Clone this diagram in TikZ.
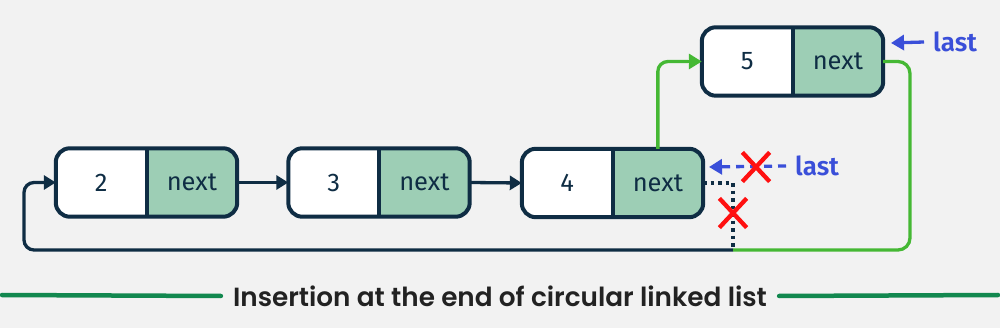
\documentclass[tikz,border=0pt]{standalone}
\usepackage{fontspec}
\setmainfont{Fira Sans}
\newfontfamily\lastfont{Fira Sans SemiBold}
\newfontfamily\titlefont{Poppins}[BoldFont={* SemiBold}]
\usetikzlibrary{arrows.meta,calc,shapes.misc}
\definecolor{bgc}{HTML}{F2F2F2}
\definecolor{navy}{HTML}{0F2D44}
\definecolor{nextfill}{HTML}{9DCEB5}
\definecolor{arrgreen}{HTML}{45B834}
\definecolor{lblue}{HTML}{3A4FD9}
\definecolor{xred}{HTML}{FF1010}
\definecolor{tline}{HTML}{12884F}
\definecolor{ttext}{HTML}{222222}
\tikzset{
  boxshape/.style={rectangle, inner sep=0, minimum width=181, minimum height=68, fill=white, rounded corners=14},
  nodeline/.style={draw=navy, line width=4},
  valtext/.style={inner sep=0, font=\fontsize{25.5}{28}\selectfont, text=navy},
  darkarrow/.style={draw=navy, line width=3.3, -{Triangle[length=12,width=14]}},
  darkline/.style={draw=navy, line width=3.3},
  greenarrow/.style={draw=arrgreen, line width=3.3, -{Triangle[length=13,width=15]}},
  greenline/.style={draw=arrgreen, line width=3.3},
  dottedline/.style={draw=navy, line width=3.5, dash pattern=on 3.5 off 4},
  bluedash/.style={draw=lblue, line width=3.3, dash pattern=on 8 off 6, -{Triangle[length=13,width=15]}},
  bluearrow/.style={draw=lblue, line width=3.3, -{Triangle[length=13,width=15]}},
  lasttext/.style={inner sep=0, font=\lastfont\fontsize{26}{28}\selectfont, text=lblue},
  crossmark/.style={cross out, draw=xred, line width=4.3, minimum width=23, minimum height=25, inner sep=0},
  titletext/.style={inner sep=0, font=\titlefont\bfseries\fontsize{26.3}{28}\selectfont, text=ttext},
  titleline/.style={draw=tline, line width=4.5, line cap=round},
}
\newcommand\llnode[4]{%
  \node[boxshape] (#1) at (#2,#3) {};
  \fill[nextfill] (#1.north) [rounded corners=14] -- (#1.north east) -- (#1.south east) [sharp corners] -- (#1.south) -- cycle;
  \draw[nodeline, rounded corners=14] (#1.north west) rectangle (#1.south east);
  \draw[nodeline] (#1.north) -- (#1.south);
  \node[valtext] (#1v) at ($(#1.west)!0.25!(#1.east)$) {#4};
  \node[valtext] (#1n) at ($(#1.west)!0.75!(#1.east)$) {next};
}
\begin{document}
\begin{tikzpicture}[x=1pt,y=-1pt]
\fill[bgc] (0,0) rectangle (1000,328);
\useasboundingbox (0,0) rectangle (1000,328);
\llnode{b2}{146.5}{182.5}{2}
\llnode{b3}{379}{182.5}{3}
\llnode{b4}{612.5}{183}{4}
\llnode{b5}{792.5}{61.5}{5}
% coordinates
\coordinate (j) at (733,250);
\coordinate (lc) at (24,250);
\coordinate (rc) at (910,250);
\coordinate (t4) at (709,167);
\coordinate (t5) at (891,43);
% arrows
\draw[darkarrow] (b2.east) -- (b3.west);
\draw[darkarrow] (b3.east) -- (b4.west);
\draw[darkline, rounded corners=10] (j) -- (lc) |- ([xshift=-12]b2.west);
\draw[darkarrow] ([xshift=-14]b2.west) -- (b2.west);
\draw[dottedline] (b4.east) -| (j);
\draw[greenline, rounded corners=10] (b4n |- b4.north) |- ([xshift=-14]b5.west);
\draw[greenarrow] ([xshift=-16]b5.west) -- (b5.west);
\draw[greenline, rounded corners=12] (b5.east) -| (rc) -- (j);
% crosses
\node[crossmark] (x1) at (733,213) {};
% last labels
\node[lasttext, anchor=west] (last4) at (795,166) {last};
\draw[bluedash] ([xshift=-9]last4.west) -- (t4);
\node[crossmark] (x2) at (756,167) {};
\node[lasttext, anchor=west] (last5) at (933,42) {last};
\draw[bluearrow] ([xshift=-9]last5.west) -- (t5);
% title
\node[titletext] (title) at (500,296) {Insertion at the end of circular linked list};
\coordinate (tl) at (2,295);
\coordinate (tr) at (998,295);
\draw[titleline] (tl) -- ([xshift=-12]title.west);
\draw[titleline] ([xshift=12]title.east) -- (tr);
\end{tikzpicture}
\end{document}
